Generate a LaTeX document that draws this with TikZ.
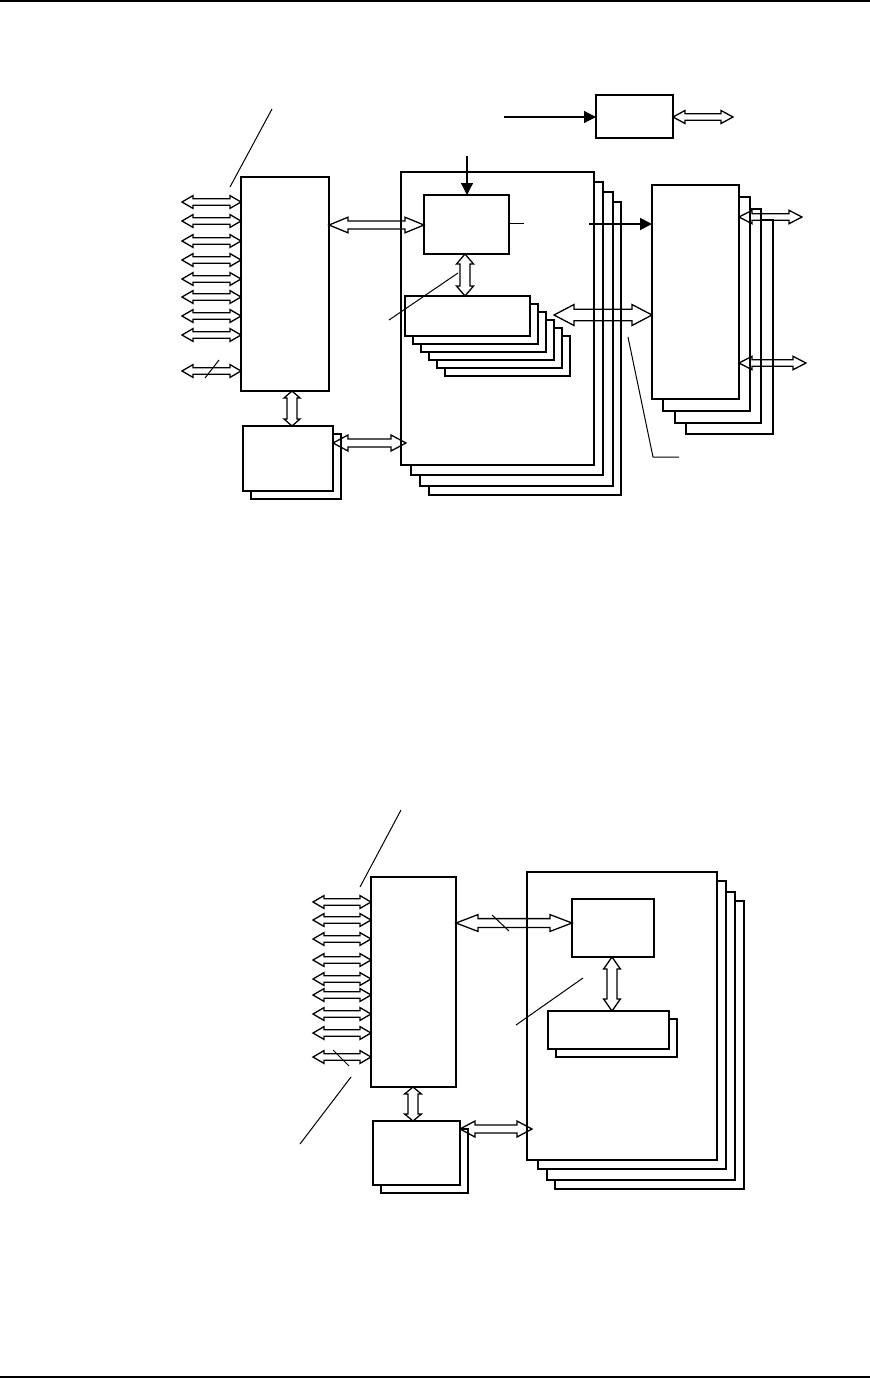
\documentclass[tikz,border=0pt]{standalone}
\usetikzlibrary{calc,fit,arrows.meta}
\tikzset{
  x=0.5pt,y=-0.5pt,
  box/.style={draw,fill=white,inner sep=0pt,outer sep=0pt,line width=0.6pt},
  leader/.style={line width=0.5pt},
  barrow/.style={draw,line width=0.65pt,line join=miter},
  solidarrow/.style={line width=0.6pt,-{Triangle[length=6pt,width=6pt]}},
  rule/.style={line width=0.8pt}
}
% block double arrow: [opts]{from}{to}{head length}{head half width}{shaft half width}
\newcommand\blockarrow[6][]{%
  \coordinate (bdA) at (#2);
  \coordinate (bdB) at (#3);
  \coordinate (bd1) at ($(bdA)!#4!(bdB)$);
  \coordinate (bd2) at ($(bdB)!#4!(bdA)$);
  \draw[barrow,#1] (bdA) -- ($(bd1)!#5!90:(bdB)$) -- ($(bd1)!#6!90:(bdB)$)
    -- ($(bd2)!#6!90:(bdB)$) -- ($(bd2)!#5!90:(bdB)$) -- (bdB)
    -- ($(bd2)!#5!-90:(bdB)$) -- ($(bd2)!#6!-90:(bdB)$)
    -- ($(bd1)!#6!-90:(bdB)$) -- ($(bd1)!#5!-90:(bdB)$) -- cycle;
}
\begin{document}
\begin{tikzpicture}
\useasboundingbox (0,0) rectangle (870,1378);
\coordinate (r1a) at (0,1); \coordinate (r1b) at (870,1);
\coordinate (r2a) at (0,1377); \coordinate (r2b) at (870,1377);
\draw[rule] (r1a) -- (r1b);
\draw[rule] (r2a) -- (r2b);

% ================= Figure 1 =================
% big stack B
\node[box,fit={(429,202)(621,495)}] (B3) {};
\node[box,fit={(420,192)(613,486)}] (B2) {};
\node[box,fit={(411,182)(603,475)}] (B1) {};
\node[box,fit={(401,172)(594,465)}] (B) {};
% inner box C
\node[box,fit={(424,195)(509,254)}] (C) {};
% stack D
\node[box,fit={(445,336)(570,376)}] (D5) {};
\node[box,fit={(437,328)(562,368)}] (D4) {};
\node[box,fit={(429,320)(554,360)}] (D3) {};
\node[box,fit={(421,312)(546,352)}] (D2) {};
\node[box,fit={(413,304)(538,344)}] (D1) {};
\node[box,fit={(405,296)(530,336)}] (D) {};
% left box A
\node[box,fit={(241,177)(329,391)}] (A) {};
% bottom stack G
\node[box,fit={(251,434)(341,499)}] (G1) {};
\node[box,fit={(243,426)(333,491)}] (G) {};
% top box E
\node[box,fit={(596,95)(673,138)}] (E) {};
% right stack F
\node[box,fit={(686,220)(773,434)}] (F3) {};
\node[box,fit={(675,209)(761,423)}] (F2) {};
\node[box,fit={(663,197)(750,411)}] (F1) {};
\node[box,fit={(652,185)(739,399)}] (F) {};

% left arrows into A
\foreach \yy [count=\i] in {202,221,241,260,279,297,316,335,371}{
  \coordinate (la\i) at (182,\yy);
  \blockarrow{la\i}{A.west |- la\i}{5.5pt}{3.2pt}{1.65pt}
}
\coordinate (s1a) at (205,378); \coordinate (s1b) at (219,360);
\draw[leader] (s1a) -- (s1b);
\coordinate (t1a) at (272,109); \coordinate (t1b) at (230,187);
\draw[leader] (t1a) -- (t1b);

% A <-> C
\coordinate (y225) at (0,225);
\blockarrow{A.east |- y225}{C.west |- y225}{9.5pt}{3.9pt}{2pt}
% arrow down into C
\coordinate (cin) at (467,156);
\draw[solidarrow] (cin) -- (cin |- C.north);
% stub right of C
\coordinate (cst) at (524,223);
\draw[line width=0.5pt] (C.east |- cst) -- (cst);
% C <-> D
\coordinate (x465) at (465,0);
\blockarrow{C.south -| x465}{D.north -| x465}{5pt}{4.25pt}{2.5pt}
\coordinate (cda) at (458,273); \coordinate (cdb) at (389,320);
\draw[leader] (cda) -- (cdb);

% arrow into E and E out
\coordinate (ein) at (504,117);
\draw[solidarrow] (ein) -- (E.west |- ein);
\coordinate (eout) at (733,117);
\blockarrow{E.east |- eout}{eout}{6pt}{3.25pt}{1.65pt}

% arrow into F
\coordinate (fin) at (589,224);
\draw[solidarrow,line width=0.9pt] (fin) -- (F.west |- fin);
% B <-> F
\coordinate (bf) at (554,315);
\blockarrow{bf}{F.west |- bf}{10pt}{5.25pt}{2.85pt}
% F outputs
\coordinate (fo1) at (802,217);
\coordinate (fo2) at (806,363);
\blockarrow{F.east |- fo1}{fo1}{6.5pt}{3.35pt}{1.65pt}
\blockarrow{F.east |- fo2}{fo2}{6.5pt}{3.35pt}{1.65pt}
% leader bottom right
\coordinate (fl1) at (628,337); \coordinate (fl2) at (653,457); \coordinate (fl3) at (679,457);
\draw[leader] (fl1) -- (fl2) -- (fl3);

% A <-> G
\coordinate (x292) at (292,0);
\blockarrow{A.south -| x292}{G.north -| x292}{3.5pt}{4pt}{2.5pt}
% G <-> B
\coordinate (gb) at (406,443);
\blockarrow{G.east |- gb}{gb}{7.5pt}{4pt}{2pt}

% ================= Figure 2 =================
\node[box,fit={(555,901)(744,1189)}] (BB3) {};
\node[box,fit={(547,892)(735,1180)}] (BB2) {};
\node[box,fit={(538,881)(726,1169)}] (BB1) {};
\node[box,fit={(527,872)(717,1160)}] (BB) {};
\node[box,fit={(572,899)(654,957)}] (CC) {};
\node[box,fit={(556,1019)(677,1057)}] (DD1) {};
\node[box,fit={(548,1011)(669,1049)}] (DD) {};
\node[box,fit={(371,877)(456,1087)}] (AA) {};
\node[box,fit={(381,1129)(468,1193)}] (GG1) {};
\node[box,fit={(373,1121)(460,1185)}] (GG) {};

\foreach \yy [count=\i] in {902,920,939,960,979,995,1014,1033,1057}{
  \coordinate (lb\i) at (313,\yy);
  \blockarrow{lb\i}{AA.west |- lb\i}{5.5pt}{3.2pt}{1.65pt}
}
\coordinate (s2a) at (333,1050); \coordinate (s2b) at (349,1066);
\draw[leader] (s2a) -- (s2b);
\coordinate (t2a) at (401,810); \coordinate (t2b) at (360,887);
\draw[leader] (t2a) -- (t2b);
\coordinate (u2a) at (351,1077); \coordinate (u2b) at (300,1144);
\draw[leader] (u2a) -- (u2b);

% AA <-> CC
\coordinate (y923) at (0,923);
\blockarrow{AA.east |- y923}{CC.west |- y923}{11pt}{4.2pt}{2.2pt}
\coordinate (s3a) at (492,915); \coordinate (s3b) at (509,931);
\draw[leader] (s3a) -- (s3b);
% CC <-> DD
\coordinate (x612) at (612,0);
\blockarrow{CC.south -| x612}{DD.north -| x612}{6pt}{4.2pt}{2.5pt}
\coordinate (cd2a) at (583,978); \coordinate (cd2b) at (516,1025);
\draw[leader] (cd2a) -- (cd2b);
% AA <-> GG
\coordinate (x413) at (413,0);
\blockarrow{AA.south -| x413}{GG.north -| x413}{3.5pt}{4.2pt}{2.5pt}
% GG <-> BB
\coordinate (gb2) at (532,1129);
\blockarrow{GG.east |- gb2}{gb2}{7.5pt}{4pt}{2pt}
\end{tikzpicture}
\end{document}
